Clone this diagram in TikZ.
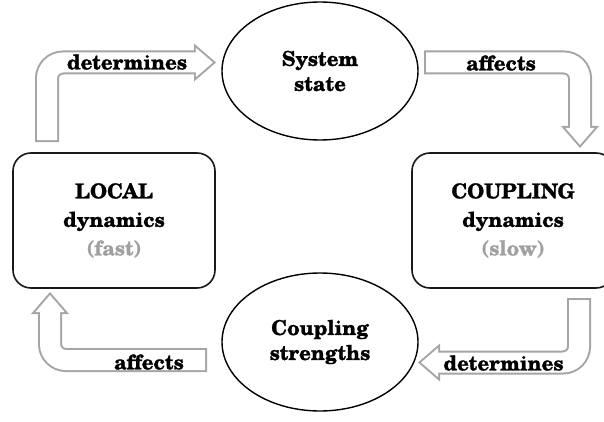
\documentclass[tikz,border=0pt]{standalone}
\usepackage{fontspec}
\setmainfont[BoldFeatures={FakeBold=1.2}]{TeX Gyre Schola}
\usetikzlibrary{arrows.meta,shapes.geometric}
\definecolor{arrow_gray}{RGB}{165,165,165}
\definecolor{text_gray}{RGB}{160,160,160}

\begin{document}
\begin{tikzpicture}[x=1pt,y=1pt,font=\fontsize{20.5pt}{25pt}\selectfont\bfseries]
    \tikzstyle{state}=[draw=black, ellipse, line width=1.4pt, minimum width=196pt, minimum height=138pt, inner sep=0pt, align=center]
    \tikzstyle{dyn}=[draw=black!90, rounded corners=18pt, line width=1.6pt, minimum width=202pt, minimum height=135pt, align=center, font=\fontsize{20.5pt}{28.5pt}\selectfont\bfseries]
    \tikzstyle{flow}=[draw=white, line width=20pt, rounded corners=16pt, shorten <=2pt, shorten >=3.06pt, -{Triangle[length=17pt,width=29.3pt,line width=0pt]},
        preaction={draw=arrow_gray, line width=24pt, shorten <=0pt, shorten >=0pt, -{Triangle[length=22pt,width=38pt,line width=0pt]}}]

    \useasboundingbox (0,0) rectangle (604,421);
    \clip (0,0) rectangle (604,421);

    \node[state] (sys)   at (320,350)   {System\\state};
    \node[state] (cstr)  at (320,79)    {Coupling\\strengths};
    \node[dyn]   (local) at (114,200.5) {LOCAL\\dynamics\\\textcolor{text_gray}{(fast)}};
    \node[dyn]   (coup)  at (513,200.5) {COUPLING\\dynamics\\\textcolor{text_gray}{(slow)}};

    % ends of the block arrows
    \coordinate (det1s) at (47,279);   \coordinate (det1e) at (216,358.5);
    \coordinate (aff1s) at (424,358.5); \coordinate (aff1e) at (580,273);
    \coordinate (det2s) at (579,123);  \coordinate (det2e) at (418,58.5);
    \coordinate (aff2s) at (207,61);   \coordinate (aff2e) at (50,129);

    \draw[flow] (det1s) |- (det1e);
    \draw[flow] (aff1s) -| (aff1e);
    \draw[flow] (det2s) |- (det2e);
    \draw[flow] (aff2s) -| (aff2e);

    \node (det1) at (127,359)  {determines};
    \node (aff1) at (501,358)  {affects};
    \node (det2) at (503.5,58) {determines};
    \node (aff2) at (149,59)   {affects};
\end{tikzpicture}
\end{document}
